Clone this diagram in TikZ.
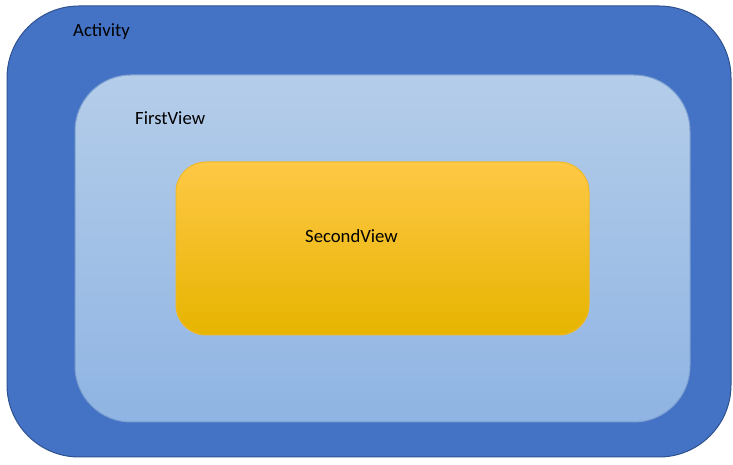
\documentclass[tikz,border=0pt]{standalone}
\usepackage{fontspec}
\setmainfont{Carlito}
\usepackage{xcolor}
\usepackage{tikz}
\usetikzlibrary{positioning}
\definecolor{actfill}{RGB}{68,114,196}
\definecolor{actstroke}{RGB}{47,82,143}
\definecolor{firsttop}{RGB}{180,205,233}
\definecolor{firstbottom}{RGB}{143,180,227}
\definecolor{firststroke}{RGB}{125,160,210}
\definecolor{secondtop}{RGB}{255,200,70}
\definecolor{secondmid}{RGB}{255,192,0}
\definecolor{secondbottom}{RGB}{230,180,0}
\definecolor{secondstroke}{RGB}{240,185,40}

\begin{document}
\begin{tikzpicture}[x=1pt, y=1pt,
  box/.style={rectangle, inner sep=0pt, line width=1pt},
  lbl/.style={font=\fontsize{18.7}{22}\selectfont, text=black, inner sep=0pt, anchor=west}]
% Three nested rounded boxes; picture is in pixel units (1px = 1pt),
% y measured upward from the bottom of the 733x465 canvas.
\useasboundingbox (0,0) rectangle (733,465);
\node[box, draw=actstroke, fill=actfill, rounded corners=72pt,
  minimum width=724pt, minimum height=451pt] (activity) at (369,233.5) {};
\node[box, draw=firststroke, top color=firsttop, bottom color=firstbottom,
  rounded corners=56pt, minimum width=615pt, minimum height=347pt]
  (firstview) at (382.5,216.5) {};
\node[box, draw=secondstroke, top color=secondtop, middle color=secondmid,
  bottom color=secondbottom, rounded corners=30pt,
  minimum width=413pt, minimum height=173pt] (secondview) at (382.5,216.5) {};
% labels
\node[lbl] (activitylbl) at (73,433) {Activity};
\node[lbl] (firstviewlbl) at (135,347) {FirstView};
\node[lbl] (secondviewlbl) at (305,229) {SecondView};
\end{tikzpicture}
\end{document}
